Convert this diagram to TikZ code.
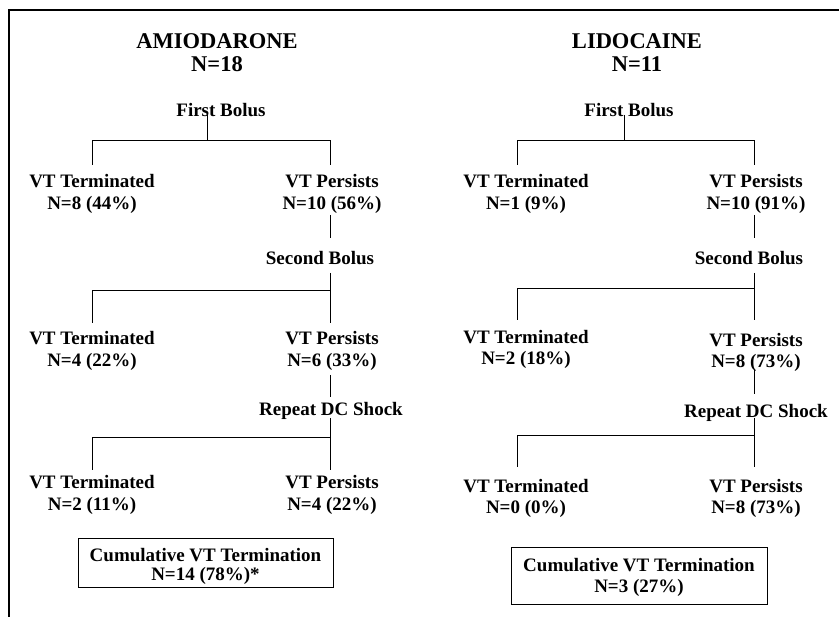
\documentclass[tikz,border=0pt]{standalone}
\usepackage{fontspec}
\setmainfont{Liberation Serif}
\begin{document}
\begin{tikzpicture}[x=1pt,y=-1pt,
  lbl/.style={font={\fontsize{19}{21.5}\selectfont\bfseries}, align=center, inner sep=0pt},
  ttl/.style={font={\fontsize{22.5}{23}\selectfont\bfseries}, align=center, inner sep=0pt},
  cbox/.style={draw, line width=0.9pt, inner sep=0pt},
  conn/.style={draw, line width=0.9pt},
  frame/.style={draw, line width=1.6pt}]
\useasboundingbox (0,0) rectangle (839,617);
% frame
\coordinate (fTL) at (9,10); \coordinate (fTR) at (839,10); \coordinate (fBL) at (9,617);
\draw[frame] (fBL) -- (fTL) -- (fTR);

% ---------------- AMIODARONE ----------------
\node[ttl] (tA) at (217,52.5) {AMIODARONE\\N=18};
\node[lbl] (fbA) at (221,110) {First Bolus};
\node[lbl] (tA1) at (92,194) {VT Terminated\\N=8 (44\%)};
\node[lbl] (pA1) at (332,194) {VT Persists\\N=10 (56\%)};
\node[lbl] (sbA) at (320,258) {Second Bolus};
\node[lbl] (tA2) at (92,351) {VT Terminated\\N=4 (22\%)};
\node[lbl] (pA2) at (332,351) {VT Persists\\N=6 (33\%)};
\node[lbl] (rA) at (331,411) {Repeat DC Shock};
\node[lbl] (tA3) at (92,495) {VT Terminated\\N=2 (11\%)};
\node[lbl] (pA3) at (332,495) {VT Persists\\N=4 (22\%)};
\node[cbox, minimum width=255pt, minimum height=49pt] (bA) at (205.5,562.5) {};
\node[lbl, font={\fontsize{19}{19}\selectfont\bfseries}] (bAt) at (205.5,566.5) {Cumulative VT Termination\\N=14 (78\%)*};

% junction coordinates (left)
\coordinate (a0) at (207,115); \coordinate (a1) at (207,140);
\coordinate (aL1) at (92,140); \coordinate (aR1) at (330,140);
\coordinate (aL1e) at (92,165); \coordinate (aR1e) at (330,165);
\coordinate (a2s) at (330,215); \coordinate (a2e) at (330,238);
\coordinate (a3s) at (330,273); \coordinate (aL3) at (92,290); \coordinate (aR3) at (330,290);
\coordinate (aL3e) at (92,323); \coordinate (aR3e) at (330,323);
\coordinate (a4s) at (330,375); \coordinate (a4e) at (330,397);
\coordinate (a5s) at (330,418); \coordinate (aL5) at (92,437); \coordinate (aR5) at (330,437);
\coordinate (aL5e) at (92,470); \coordinate (aR5e) at (330,470);

\draw[conn] (a0) -- (a1);
\draw[conn] (aL1e) -- (aL1) -- (aR1) -- (aR1e);
\draw[conn] (a2s) -- (a2e);
\draw[conn] (a3s) -- (aR3);
\draw[conn] (aL3e) -- (aL3) -- (aR3) -- (aR3e);
\draw[conn] (a4s) -- (a4e);
\draw[conn] (a5s) -- (aR5);
\draw[conn] (aL5e) -- (aL5) -- (aR5) -- (aR5e);

% ---------------- LIDOCAINE ----------------
\node[ttl] (tB) at (637,53) {LIDOCAINE\\N=11};
\node[lbl] (fbB) at (629,110) {First Bolus};
\node[lbl] (tB1) at (526,194) {VT Terminated\\N=1 (9\%)};
\node[lbl] (pB1) at (756,194) {VT Persists\\N=10 (91\%)};
\node[lbl] (sbB) at (749,258) {Second Bolus};
\node[lbl] (tB2) at (526,349.2) {VT Terminated\\N=2 (18\%)};
\node[lbl] (pB2) at (756,352.6) {VT Persists\\N=8 (73\%)};
\node[lbl] (rB) at (756,413) {Repeat DC Shock};
\node[lbl] (tB3) at (526,498.6) {VT Terminated\\N=0 (0\%)};
\node[lbl] (pB3) at (756,498.6) {VT Persists\\N=8 (73\%)};
\node[cbox, minimum width=256pt, minimum height=57pt] (bB) at (639,575.5) {};
\node[lbl] (bBt) at (639,577.6) {Cumulative VT Termination\\N=3 (27\%)};

% junction coordinates (right)
\coordinate (b0) at (624,115); \coordinate (b1) at (624,140);
\coordinate (bL1) at (517,140); \coordinate (bR1) at (754,140);
\coordinate (bL1e) at (517,165); \coordinate (bR1e) at (754,165);
\coordinate (b2s) at (754,215); \coordinate (b2e) at (754,238);
\coordinate (b3s) at (754,273); \coordinate (bL3) at (517,288); \coordinate (bR3) at (754,288);
\coordinate (bL3e) at (517,320); \coordinate (bR3e) at (754,320);
\coordinate (b4s) at (754,370); \coordinate (b4e) at (754,394);
\coordinate (b5s) at (754,418); \coordinate (bL5) at (517,435); \coordinate (bR5) at (754,435);
\coordinate (bL5e) at (517,467); \coordinate (bR5e) at (754,467);

\draw[conn] (b0) -- (b1);
\draw[conn] (bL1e) -- (bL1) -- (bR1) -- (bR1e);
\draw[conn] (b2s) -- (b2e);
\draw[conn] (b3s) -- (bR3);
\draw[conn] (bL3e) -- (bL3) -- (bR3) -- (bR3e);
\draw[conn] (b4s) -- (b4e);
\draw[conn] (b5s) -- (bR5);
\draw[conn] (bL5e) -- (bL5) -- (bR5) -- (bR5e);
\end{tikzpicture}
\end{document}
